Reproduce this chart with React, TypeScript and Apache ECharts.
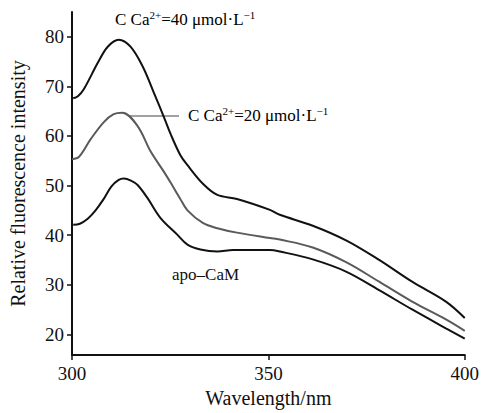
import React, { useEffect, useRef } from "react";
import * as echarts from "echarts";

// Wavelength (nm) and relative fluorescence intensity
const wl40 = [300.3, 301.5, 303.0, 306.6, 309.1, 311.9, 314.9, 318.0, 320.8, 323.3, 325.1, 327.6, 329.4, 333.4, 337.0, 342.0, 350.4, 352.9, 361.3, 369.9, 378.2, 386.6, 395.2, 400.0];
const int40 = [67.6, 68.0, 69.4, 74.8, 78.0, 79.4, 78.0, 74.0, 68.8, 64.0, 60.4, 56.1, 54.1, 50.3, 48.1, 47.3, 45.1, 44.1, 41.9, 38.9, 35.0, 30.6, 26.6, 23.3];

const wl20 = [300.0, 301.8, 304.8, 308.1, 310.6, 312.8, 316.7, 320.0, 323.3, 325.1, 327.5, 329.4, 333.4, 337.0, 342.0, 350.4, 352.9, 361.3, 369.9, 378.2, 386.6, 395.2, 400.0];
const int20 = [55.3, 55.8, 59.4, 62.8, 64.4, 64.7, 62.0, 56.9, 52.9, 50.6, 47.4, 45.0, 42.4, 41.4, 40.5, 39.4, 39.1, 37.5, 34.5, 30.6, 26.6, 23.0, 20.7];

const wlApo = [300.3, 302.0, 304.0, 306.0, 308.0, 310.0, 311.8, 313.2, 315.0, 316.7, 319.2, 322.5, 326.8, 329.4, 332.7, 337.0, 341.0, 350.4, 352.9, 361.3, 369.9, 378.2, 386.6, 395.2, 400.0];
const intApo = [42.1, 42.3, 43.3, 45.0, 47.2, 49.8, 51.1, 51.4, 51.0, 50.1, 47.5, 43.5, 40.1, 38.1, 37.1, 36.7, 37.0, 37.0, 36.7, 35.1, 32.6, 28.9, 25.0, 21.2, 19.1];

const yTicks = [20, 30, 40, 50, 60, 70, 80];
const xTicks = [300, 350, 400];

const FONT = "Liberation Serif";

function zip(xs: number[], ys: number[]) {
  return xs.map((x, i) => [x, ys[i]]);
}

export default function App() {
  const ref = useRef<HTMLDivElement>(null);
  useEffect(() => {
    document.body.style.margin = "0";
    if (!ref.current) return;
    const chart = echarts.init(ref.current, undefined, { renderer: "svg" });
    const rich = {
      n: { fontFamily: FONT, fontSize: 17, color: "#111", lineHeight: 20, verticalAlign: "bottom" },
      s: { fontFamily: FONT, fontSize: 11, color: "#111", lineHeight: 20, verticalAlign: "bottom", padding: [0, 0, 8, 0] },
    };
    chart.setOption({
      animation: false,
      backgroundColor: "#fff",
      textStyle: { fontFamily: FONT },
      grid: { left: 71, right: 16, top: 12, bottom: 54, containLabel: false },
      xAxis: {
        type: "value",
        min: 300,
        max: 400,
        interval: 50,
        name: "Wavelength/nm",
        nameLocation: "middle",
        nameGap: 32,
        nameTextStyle: { fontFamily: FONT, fontSize: 20, color: "#111" },
        axisLine: { lineStyle: { color: "#111", width: 2 } },
        axisTick: { show: true, length: 5, lineStyle: { color: "#111", width: 1.5 }, customValues: xTicks },
        axisLabel: { fontFamily: FONT, fontSize: 19, color: "#111", margin: 9, customValues: xTicks },
        splitLine: { show: false },
      },
      yAxis: {
        type: "value",
        min: 15.8,
        max: 85,
        name: "Relative fluorescence intensity",
        nameLocation: "middle",
        nameGap: 44,
        nameRotate: 90,
        nameTextStyle: { fontFamily: FONT, fontSize: 20, color: "#111" },
        axisLine: { show: true, lineStyle: { color: "#111", width: 2 } },
        axisTick: { show: true, length: 5, lineStyle: { color: "#111", width: 1.5 }, customValues: yTicks },
        axisLabel: {
          fontFamily: FONT,
          fontSize: 19,
          margin: 8,
          customValues: yTicks,
          color: (v: number) => (v === 80 ? "#7a7a7a" : "#111"),
        },
        splitLine: { show: false },
      },
      series: [
        {
          name: "C Ca2+=40 μmol·L-1",
          type: "line",
          data: zip(wl40, int40),
          showSymbol: false,
          smooth: 0.35,
          lineStyle: { color: "#111", width: 2 },
        },
        {
          name: "C Ca2+=20 μmol·L-1",
          type: "line",
          data: zip(wl20, int20),
          showSymbol: false,
          smooth: 0.35,
          lineStyle: { color: "#5a5a5a", width: 2 },
        },
        {
          name: "apo-CaM",
          type: "line",
          data: zip(wlApo, intApo),
          showSymbol: false,
          smooth: 0.35,
          lineStyle: { color: "#111", width: 2 },
        },
      ],
      graphic: [
        {
          type: "text",
          left: 115,
          top: 9,
          style: { text: "{n|C Ca}{s|2+}{n|=40 μmol·L}{s|−1}", rich },
        },
        {
          type: "line",
          shape: { x1: 128, y1: 116, x2: 179, y2: 116 },
          style: { stroke: "#444", lineWidth: 1 },
        },
        {
          type: "text",
          left: 188,
          top: 105,
          style: { text: "{n|C Ca}{s|2+}{n|=20 μmol·L}{s|−1}", rich },
        },
        {
          type: "text",
          left: 172,
          top: 266,
          style: { text: "apo–CaM", fontFamily: FONT, fontSize: 17, fill: "#111" },
        },
      ],
    });
    return () => chart.dispose();
  }, []);
  return <div ref={ref} style={{ width: 482, height: 413 }} />;
}
